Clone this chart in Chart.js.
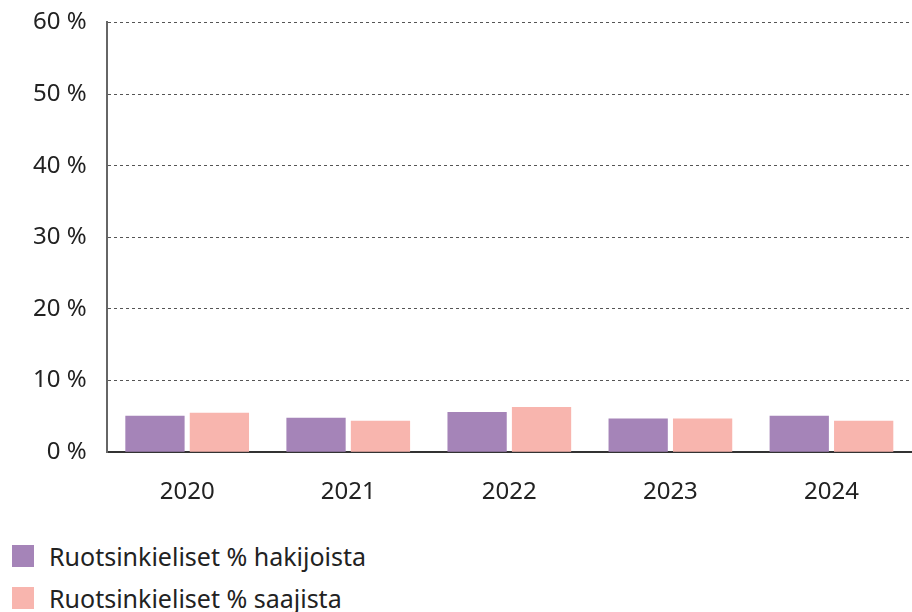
<!DOCTYPE html>
<html>
<head>
<meta charset="utf-8">
<script src="https://cdn.jsdelivr.net/npm/chart.js@4"></script>
<style>
    body { margin: 0; background: #fff; font-family: "Noto Sans", sans-serif; }
    #wrap { position: relative; width: 912px; height: 612px; overflow: hidden; }
    #box { position: absolute; left: 0; top: -12px; width: 912px; height: 537px; }
    #legende { position: absolute; left: 12px; top: 535px; }
    .item { display: flex; align-items: center; height: 42px; font-size: 25px; color: #222; }
    .carre { width: 22px; height: 22px; margin-right: 15px; }
</style>
</head>
<body>
<div id="wrap">
    <div id="box"><canvas id="graphique"></canvas></div>
    <div id="legende"></div>
</div>
<script>
const annees = ["2020", "2021", "2022", "2023", "2024"];
const hakijoista = [5.1, 4.8, 5.6, 4.7, 5.1];
const saajista = [5.5, 4.4, 6.3, 4.7, 4.4];
const nimet = ["Ruotsinkieliset % hakijoista", "Ruotsinkieliset % saajista"];
const couleurs = ["#a584b8", "#f8b5ae"];

const police = { family: "'Noto Sans', sans-serif", size: 24 };

const data = {
    labels: annees,
    datasets: [
        { label: nimet[0], data: hakijoista, backgroundColor: couleurs[0] },
        { label: nimet[1], data: saajista, backgroundColor: couleurs[1] }
    ]
};

const config = {
    type: "bar",
    data: data,
    options: {
        responsive: true,
        maintainAspectRatio: false,
        animation: false,
        categoryPercentage: 0.8,
        barPercentage: 0.92,
        layout: { padding: { top: 0, right: 0, left: 13, bottom: 0 } },
        plugins: { legend: { display: false }, tooltip: { enabled: false } },
        scales: {
            x: {
                grid: { display: false },
                border: { color: "#333", width: 2 },
                ticks: { color: "#222", font: police, padding: 18 }
            },
            y: {
                min: 0,
                max: 60,
                ticks: {
                    stepSize: 10,
                    color: "#222",
                    font: police,
                    padding: 20,
                    callback: v => v + " %"
                },
                grid: { color: "#555", lineWidth: 1, drawTicks: false },
                border: { color: "#666", width: 2, dash: [3, 3] }
            }
        }
    }
};

const ctx = document.querySelector("#graphique").getContext("2d");
new Chart(ctx, config);

// legende verticale
const legende = document.querySelector("#legende");
nimet.forEach((nom, i) => {
    const item = document.createElement("div");
    item.classList.add("item");
    item.innerHTML = `<span class="carre" style="background:${couleurs[i]}"></span>${nom}`;
    legende.appendChild(item);
});
</script>
</body>
</html>
